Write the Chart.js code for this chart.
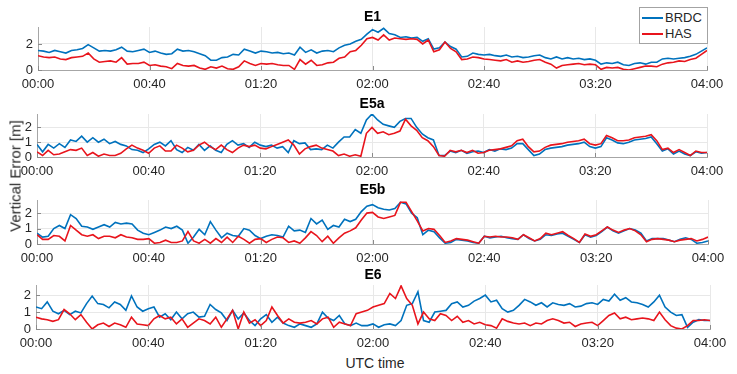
<!DOCTYPE html>
<html>
<head>
<meta charset="utf-8">
<script src="https://cdn.jsdelivr.net/npm/chart.js@4.4.1/dist/chart.umd.min.js"></script>
<style>
  body { margin: 0; background: #fff; }
  #wrap { position: relative; width: 737px; height: 374px; font-family: "Liberation Sans", Arial, sans-serif; color: #262626; }
  canvas { position: absolute; left: 0; }
  .lbl { position: absolute; white-space: nowrap; transform: translate(-50%, -50%); }
  #legend { position: absolute; left: 639px; top: 7px; width: 69px; height: 37px; box-sizing: border-box; border: 1px solid #a3a3a3; background: #fff; font-size: 13px; }
  #legend .ln { position: absolute; left: 2px; width: 21px; height: 2px; }
  #legend .tx { position: absolute; left: 25px; line-height: 15px; }
</style>
</head>
<body>
<div id="wrap">
  <canvas id="p0"></canvas>
  <canvas id="p1"></canvas>
  <canvas id="p2"></canvas>
  <canvas id="p3"></canvas>
  <div class="lbl" style="left:15px; top:176px; font-size:15px; transform: translate(-50%,-50%) rotate(-90deg);">Vertical Error [m]</div>
  <div class="lbl" style="left:375px; top:363px; font-size:14px;">UTC time</div>
  <div id="legend">
    <div class="ln" style="top:9px; background:#0072BD;"></div><div class="tx" style="top:2px;">BRDC</div>
    <div class="ln" style="top:25px; background:#e8141c;"></div><div class="tx" style="top:18px;">HAS</div>
  </div>
</div>
<script>
// time axis in minutes after 00:00, one sample every 2 minutes
const minutes = [];
for (let m = 0; m <= 240; m += 2) minutes.push(m);

const panelNames = ["E1", "E5a", "E5b", "E6"];
const yMax = [3.3, 2.9, 2.85, 2.6];
const yStep = [2, 1, 1, 1];

const e1Brdc = [
  1.5,1.45,1.35,1.5,1.4,1.3,1.5,1.55,1.65,1.95,
  1.7,1.45,1.5,1.45,1.55,1.75,1.45,1.4,1.5,1.6,
  1.35,1.45,1.3,1.2,1.25,1.6,1.45,1.5,1.4,1.25,
  1.1,0.75,0.75,0.95,1.0,1.2,1.15,1.6,1.45,1.3,
  1.45,1.4,1.3,1.35,1.25,1.3,1.15,1.75,1.35,1.55,
  1.3,1.45,1.5,1.4,1.7,1.9,2.0,2.2,2.35,2.75,
  3.1,2.9,3.2,2.8,2.7,2.5,2.55,2.45,2.5,2.2,
  2.4,1.6,1.7,2.15,1.8,1.6,1.0,1.05,1.3,1.2,
  1.15,1.2,1.1,1.05,1.15,1.0,1.05,0.95,1.0,1.1,
  1.15,0.95,0.85,1.0,0.85,0.95,0.85,0.9,0.8,0.85,
  0.75,0.45,0.55,0.5,0.6,0.4,0.35,0.5,0.55,0.45,
  0.6,0.6,0.85,0.9,0.85,0.9,0.95,1.05,1.2,1.45,
  1.7
];
const e1Has = [
  1.1,1.0,0.95,1.0,0.85,0.8,0.95,1.0,1.05,1.3,
  0.85,0.6,0.65,0.7,0.6,0.95,0.45,0.5,0.5,0.6,
  0.35,0.4,0.3,0.25,0.1,0.5,0.35,0.3,0.35,0.15,
  0.05,0.25,0.15,0.3,0.1,0.05,0.25,0.7,0.5,0.35,
  0.5,0.45,0.5,0.4,0.35,0.35,0.05,0.8,0.45,0.75,
  0.35,0.4,0.55,0.6,0.9,1.0,1.4,1.5,1.9,2.4,
  2.5,2.3,2.7,2.3,2.45,2.4,2.35,2.4,2.35,2.0,
  2.3,1.4,1.55,2.15,1.65,1.4,0.8,0.85,1.0,0.95,
  0.85,0.8,0.75,0.7,0.8,0.6,0.7,0.6,0.65,0.75,
  0.8,0.6,0.45,0.15,0.35,0.4,0.45,0.5,0.4,0.45,
  0.4,0.05,0.2,0.15,0.2,0.05,0.0,0.1,0.2,0.3,
  0.3,0.25,0.45,0.55,0.6,0.7,0.65,0.8,0.9,1.2,
  1.5
];
const e5aBrdc = [
  0.85,0.35,0.85,0.6,0.9,0.65,1.15,1.05,1.4,1.0,
  1.3,1.0,1.2,0.9,1.05,0.85,0.75,0.5,0.45,0.3,
  0.55,0.85,1.0,0.75,1.1,0.5,0.3,0.65,0.45,0.85,
  0.45,0.75,0.45,0.3,0.85,1.1,0.8,0.9,0.65,1.0,
  0.8,0.7,0.8,0.6,0.7,0.3,1.1,0.9,0.95,0.5,
  0.55,0.5,0.8,0.6,1.0,1.35,1.35,1.85,1.6,2.5,
  2.9,2.5,2.2,2.1,2.0,2.4,2.6,2.6,2.0,1.55,
  1.3,1.15,0.1,0.1,0.4,0.3,0.45,0.25,0.35,0.4,
  0.3,0.5,0.4,0.55,0.5,0.6,0.9,0.9,0.5,0.1,
  0.2,0.5,0.6,0.65,0.7,0.8,0.85,0.9,1.0,0.7,
  0.6,0.7,1.3,1.15,0.95,0.9,1.0,1.15,1.2,1.25,
  1.35,0.9,0.4,0.55,0.2,0.4,0.2,0.1,0.35,0.25,
  0.3
];
const e5aHas = [
  0.35,0.1,0.45,0.15,0.2,0.35,0.5,0.45,0.6,0.1,
  0.3,0.05,0.2,0.1,0.1,0.25,0.55,0.8,0.6,0.45,
  0.25,0.6,0.75,0.4,0.4,0.8,0.6,0.35,0.45,0.8,
  1.0,0.7,0.5,0.8,0.5,0.3,0.6,0.8,0.7,0.8,
  0.6,0.55,0.7,0.85,1.0,1.15,0.8,0.2,0.55,0.7,
  0.8,0.6,0.5,0.4,0.1,0.2,0.05,0.15,0.05,1.6,
  2.0,1.6,1.7,1.5,1.6,1.75,2.55,2.1,1.8,1.3,
  1.1,0.7,0.1,0.05,0.45,0.35,0.45,0.3,0.45,0.25,
  0.3,0.45,0.5,0.55,0.65,0.75,1.1,1.2,0.7,0.35,
  0.4,0.65,0.8,0.85,0.9,1.0,1.05,1.1,1.2,0.9,
  0.8,0.9,1.45,1.3,1.1,1.1,1.15,1.3,1.35,1.4,
  1.5,1.1,0.5,0.6,0.3,0.5,0.3,0.1,0.4,0.3,
  0.3
];
const e5bBrdc = [
  0.7,0.45,0.5,1.0,1.2,1.0,1.9,1.65,1.15,1.1,
  0.95,1.1,1.25,1.1,1.4,1.3,1.35,1.3,0.9,0.7,
  0.6,0.75,0.9,1.1,1.0,1.15,0.9,0.05,0.45,0.95,
  0.6,1.45,0.9,0.4,0.7,0.55,0.5,1.0,0.9,0.55,
  0.35,0.5,0.6,0.55,0.45,1.15,0.85,0.9,0.75,1.65,
  1.3,1.55,0.95,1.2,1.1,1.6,1.45,1.6,2.1,2.45,
  2.55,2.35,2.25,2.2,2.3,2.7,2.6,2.0,1.7,0.6,
  0.9,0.8,0.4,0.05,0.1,0.3,0.25,0.2,0.1,0.05,
  0.5,0.4,0.45,0.5,0.4,0.35,0.3,0.6,0.35,0.2,
  0.3,0.6,0.55,0.65,0.7,0.5,0.3,0.1,0.6,0.45,
  0.55,0.8,1.1,0.85,0.7,0.85,1.0,0.9,0.7,0.2,
  0.35,0.35,0.35,0.25,0.15,0.3,0.4,0.3,0.05,0.1,
  0.2
];
const e5bHas = [
  0.6,0.3,0.3,0.55,0.5,0.2,1.2,0.9,0.6,0.5,
  0.6,0.35,0.5,0.5,0.4,0.6,0.45,0.4,0.3,0.3,
  0.35,0.05,0.1,0.25,0.1,0.1,0.2,0.8,0.2,0.05,
  0.3,0.05,0.35,0.1,0.45,0.1,0.5,0.3,0.05,0.3,
  0.35,0.1,0.3,0.45,0.4,0.1,0.2,0.05,0.4,0.8,
  0.55,0.15,0.5,0.05,0.4,0.7,0.85,1.05,1.55,2.0,
  2.05,1.75,1.65,1.75,1.85,2.7,2.7,2.1,1.5,0.85,
  1.0,0.95,0.55,0.1,0.2,0.35,0.3,0.25,0.15,0.05,
  0.5,0.45,0.5,0.45,0.45,0.4,0.3,0.6,0.4,0.2,
  0.35,0.7,0.6,0.7,0.8,0.55,0.35,0.1,0.65,0.5,
  0.6,0.85,1.1,0.9,0.75,0.9,1.0,0.85,0.6,0.15,
  0.3,0.35,0.3,0.25,0.15,0.25,0.3,0.35,0.2,0.3,
  0.45
];
const e6Brdc = [
  1.3,1.2,1.6,1.05,0.9,1.1,0.85,1.05,0.95,1.5,
  1.95,1.5,1.45,1.25,1.6,1.45,1.1,1.95,1.3,1.05,
  1.2,1.3,0.7,0.9,0.55,1.0,0.6,0.9,1.0,0.7,
  0.75,1.45,1.15,0.95,0.5,1.1,0.6,0.95,0.5,0.2,
  0.6,0.85,0.4,0.7,0.35,0.2,0.1,0.3,0.2,0.1,
  0.3,1.0,0.65,0.5,0.8,0.3,0.2,0.35,0.2,0.2,
  0.3,0.1,0.25,0.3,0.2,0.5,1.4,1.5,2.2,0.5,
  0.4,1.0,1.05,1.1,1.5,1.6,1.3,1.4,1.65,1.8,
  2.0,1.6,1.7,1.2,1.0,1.1,1.4,1.75,1.6,1.4,
  1.55,1.3,1.55,1.45,1.4,1.5,1.3,1.35,1.5,1.55,
  1.45,1.75,1.65,2.05,1.7,1.85,1.6,1.55,1.45,1.3,
  1.6,2.0,1.3,1.0,0.8,0.85,0.1,0.4,0.55,0.5,
  0.5
];
const e6Has = [
  0.7,0.6,0.55,0.45,0.55,1.15,0.9,0.55,0.85,0.4,
  0.0,0.25,0.35,0.15,0.35,0.25,0.1,0.7,0.3,0.25,
  0.2,0.6,0.8,0.6,0.7,0.3,0.6,0.1,0.35,0.6,
  0.5,0.3,0.7,0.1,0.6,1.1,0.0,1.0,0.35,0.55,
  0.2,0.5,1.3,0.8,0.35,0.6,0.4,0.35,0.4,0.5,
  0.3,0.6,0.7,0.1,0.4,0.3,0.2,0.9,1.0,1.1,
  1.3,1.4,1.5,2.1,1.8,2.55,1.8,1.4,0.3,1.0,
  0.6,0.5,0.9,0.8,0.5,0.75,0.4,0.5,0.3,0.4,
  0.25,0.2,0.05,0.6,0.45,0.35,0.3,0.35,0.2,0.35,
  0.3,0.5,0.6,0.5,0.35,0.4,0.15,0.3,0.35,0.4,
  0.2,0.5,0.8,0.95,0.6,0.7,0.55,0.6,0.65,0.6,
  0.5,1.0,0.55,0.2,0.05,0.0,0.2,0.5,0.5,0.55,
  0.5
];

const brdcSeries = [e1Brdc, e5aBrdc, e5bBrdc, e6Brdc];
const hasSeries = [e1Has, e5aHas, e5bHas, e6Has];

// plot area of each panel in page pixels
const boxes = [
  { left: 38, right: 707, top: 27, bottom: 70 },
  { left: 37, right: 707, top: 114, bottom: 157 },
  { left: 37, right: 708, top: 200, bottom: 244 },
  { left: 36, right: 710, top: 285, bottom: 329 },
];

const BLUE = "#0072BD";
const RED = "#e8141c";
const FONT = "'Liberation Sans', Arial, sans-serif";
const GRID = "#e8e8e8";
const AXIS = "#a6a6a6";
const TITLE_H = 24;
const XAXIS_H = 26;

function hhmm(v) {
  const h = Math.floor(v / 60), m = v % 60;
  return String(h).padStart(2, "0") + ":" + String(m).padStart(2, "0");
}

function toPoints(arr) {
  return minutes.map((m, i) => ({ x: m, y: arr[i] }));
}

// matlab style short ticks pointing into the plot
const innerTicks = {
  id: "innerTicks",
  afterDraw(chart) {
    const { ctx, chartArea: a, scales } = chart;
    ctx.save();
    ctx.strokeStyle = "#8a8a8a";
    ctx.lineWidth = 1;
    ctx.beginPath();
    scales.x.ticks.forEach((t) => {
      const px = Math.round(scales.x.getPixelForValue(t.value)) + 0.5;
      ctx.moveTo(px, a.bottom);
      ctx.lineTo(px, a.bottom - 4);
    });
    scales.y.ticks.forEach((t) => {
      const py = Math.round(scales.y.getPixelForValue(t.value)) + 0.5;
      ctx.moveTo(a.left, py);
      ctx.lineTo(a.left + 4, py);
    });
    ctx.stroke();
    ctx.restore();
  },
};

panelNames.forEach((name, i) => {
  const box = boxes[i];
  const cv = document.getElementById("p" + i);
  cv.width = 737;
  cv.height = box.bottom - box.top + TITLE_H + XAXIS_H;
  cv.style.top = (box.top - TITLE_H) + "px";

  new Chart(cv, {
    type: "line",
    data: {
      datasets: [
        { label: "BRDC", data: toPoints(brdcSeries[i]), borderColor: BLUE, borderWidth: 1.6, pointRadius: 0, order: 1 },
        { label: "HAS", data: toPoints(hasSeries[i]), borderColor: RED, borderWidth: 1.6, pointRadius: 0, order: 0 },
      ],
    },
    options: {
      responsive: false,
      animation: false,
      layout: { padding: { left: 0, right: 737 - box.right, top: 0, bottom: 0 } },
      plugins: {
        legend: { display: false },
        tooltip: { enabled: false },
        title: {
          display: true,
          text: name,
          fullSize: false,
          color: "#000",
          font: { family: FONT, size: 14, weight: "bold" },
          padding: { top: 5.5, bottom: 1.7 },
        },
      },
      scales: {
        x: {
          type: "linear",
          min: 0,
          max: 240,
          ticks: { stepSize: 40, callback: hhmm, autoSkip: false, maxRotation: 0, padding: 7, color: "#262626", font: { family: FONT, size: 13 } },
          grid: { color: GRID, drawTicks: false },
          border: { color: AXIS },
          afterFit: (s) => { s.height = XAXIS_H; },
        },
        y: {
          min: 0,
          max: yMax[i],
          ticks: { stepSize: yStep[i], includeBounds: false, padding: 5, color: "#262626", font: { family: FONT, size: 13 } },
          grid: { color: GRID, drawTicks: false },
          border: { color: AXIS },
          afterFit: (s) => { s.width = box.left; },
        },
      },
    },
    plugins: [innerTicks],
  });
});
</script>
</body>
</html>
